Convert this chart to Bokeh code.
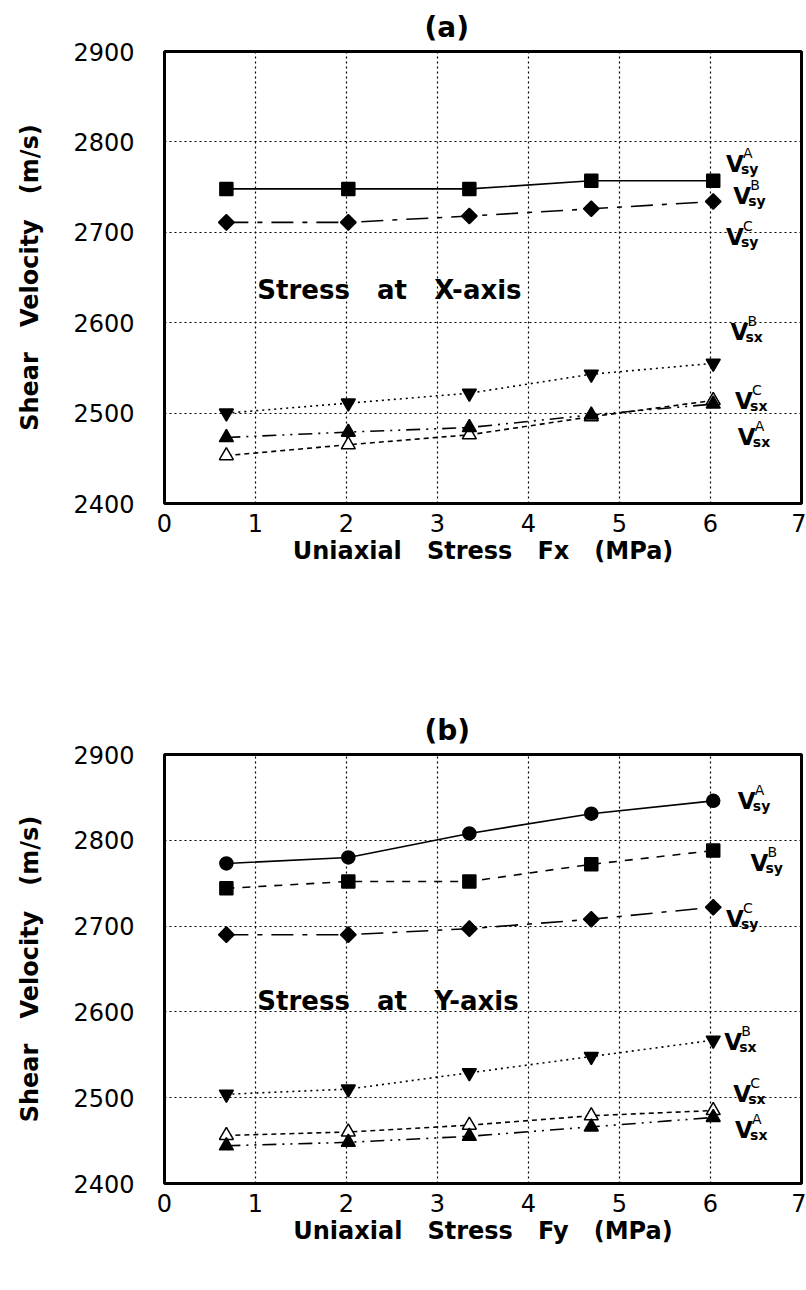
import math
from bokeh.plotting import figure
from bokeh.layouts import column
from bokeh.models import Range1d, FixedTicker, Title, ColumnDataSource
from bokeh.core.properties import value
from bokeh.embed import file_html
from bokeh.resources import INLINE

# ---------------- data ----------------
stress = [0.68, 2.02, 3.35, 4.69, 6.03]          # MPa
x_ticks = [0, 1, 2, 3, 4, 5, 6, 7]
y_ticks = [2400, 2500, 2600, 2700, 2800, 2900]

# (a) stress along X-axis
a_vsy_AB = [2748, 2748, 2748, 2757, 2757]   # squares (A and B coincide)
a_vsy_C = [2711, 2711, 2718, 2726, 2734]    # diamonds
a_vsx_B = [2500, 2511, 2522, 2543, 2555]    # inverted triangles
a_vsx_C = [2453, 2465, 2476, 2496, 2514]    # open triangles
a_vsx_A = [2473, 2479, 2484, 2498, 2510]    # filled triangles

# (b) stress along Y-axis
b_vsy_A = [2773, 2780, 2808, 2831, 2846]    # circles
b_vsy_B = [2744, 2752, 2752, 2772, 2788]    # squares
b_vsy_C = [2690, 2690, 2697, 2708, 2722]    # diamonds
b_vsx_B = [2504, 2510, 2529, 2548, 2567]    # inverted triangles
b_vsx_C = [2456, 2460, 2468, 2479, 2485]    # open triangles
b_vsx_A = [2444, 2448, 2455, 2466, 2477]    # filled triangles

# series labels (superscript, subscript, anchor x, anchor y in data units)
a_lab_sup = ["A", "B", "C", "B", "C", "A"]
a_lab_sub = ["sy", "sy", "sy", "sx", "sx", "sx"]
a_lab_x = [6.17, 6.25, 6.17, 6.22, 6.27, 6.30]
a_lab_y = [2776, 2740, 2695, 2590, 2513, 2474]

b_lab_sup = ["A", "B", "C", "B", "C", "A"]
b_lab_sub = ["sy", "sy", "sy", "sx", "sx", "sx"]
b_lab_x = [6.30, 6.44, 6.17, 6.15, 6.25, 6.27]
b_lab_y = [2846, 2773, 2708, 2565, 2504, 2462]

FONT = "DejaVu Sans"
SP = "\u00a0\u00a0\u00a0"


def make_panel(title, xlabel, series, lab, ann, height, top, bottom):
    p = figure(width=806, height=height, x_range=Range1d(0, 7), y_range=Range1d(2400, 2900),
               output_backend="svg", toolbar_location=None,
               min_border_left=164, min_border_right=5,
               min_border_top=top, min_border_bottom=bottom)
    p.background_fill_color = "white"
    p.border_fill_color = "white"
    p.outline_line_color = "black"
    p.outline_line_width = 3

    t = Title(text=title, align="left", offset=260, standoff=16, text_color="black",
              text_font=FONT, text_font_size="28px", text_font_style="bold")
    p.add_layout(t, "above")

    for ax in (p.xaxis[0], p.yaxis[0]):
        ax.axis_line_color = None
        ax.major_tick_line_color = None
        ax.minor_tick_line_color = None
        ax.major_tick_out = 0
        ax.major_tick_in = 0
        ax.major_label_text_font = FONT
        ax.major_label_text_font_size = "24px"
        ax.major_label_text_color = "black"
        ax.axis_label_text_font = FONT
        ax.axis_label_text_font_size = "24px"
        ax.axis_label_text_font_style = "bold"
        ax.axis_label_text_color = "black"
    p.xaxis.ticker = FixedTicker(ticks=x_ticks)
    p.yaxis.ticker = FixedTicker(ticks=y_ticks)
    p.xaxis.major_label_standoff = 10
    p.yaxis.major_label_standoff = 30
    p.xaxis.axis_label = xlabel
    p.yaxis.axis_label = "Shear" + SP + "Velocity" + SP + "(m/s)"
    p.xaxis.axis_label_standoff = 2
    p.yaxis.axis_label_standoff = 26

    for g in (p.xgrid[0], p.ygrid[0]):
        g.grid_line_color = "black"
        g.grid_line_dash = "2 3"
        g.grid_line_width = 1.2

    for ys, marker, fill, dash, size, ang in series:
        p.line(stress, ys, line_color="black", line_width=1.6, line_dash=dash)
    for ys, marker, fill, dash, size, ang in series:
        p.scatter(stress, ys, marker=marker, size=size, angle=ang, fill_color=fill,
                  line_color="black", line_width=1.5)

    sup, sub, lx, ly = lab
    src = ColumnDataSource(dict(x=lx, y=ly, v=["V"] * len(lx), sup=sup, sub=sub))
    p.text("x", "y", text="v", source=src, text_font=value(FONT), text_font_size="23px",
           text_font_style="bold", text_align="left", text_baseline="middle", text_color="black")
    p.text("x", "y", text="sub", source=src, text_font=value(FONT), text_font_size="14px",
           text_font_style="bold", text_align="left", text_baseline="middle",
           x_offset=15, y_offset=5, text_color="black")
    p.text("x", "y", text="sup", source=src, text_font=value(FONT), text_font_size="14px",
           text_align="left", text_baseline="middle", x_offset=17, y_offset=-11, text_color="black")

    atext, ax_, ay_ = ann
    asrc = ColumnDataSource(dict(x=[ax_], y=[ay_], t=[atext]))
    p.text("x", "y", text="t", source=asrc, text_font=value(FONT), text_font_size="26px",
           text_font_style="bold", text_align="left", text_baseline="middle", text_color="black")
    return p


D = math.pi / 4
series_a = [
    (a_vsy_AB, "square", "black", "solid", 13, 0),
    (a_vsy_C, "square", "black", "22 9 5 9", 11, D),
    (a_vsx_B, "inverted_triangle", "black", "2 4", 14, 0),
    (a_vsx_C, "triangle", "white", "5 4", 14, 0),
    (a_vsx_A, "triangle", "black", "14 6 2 6 2 6", 14, 0),
]
series_b = [
    (b_vsy_A, "circle", "black", "solid", 13, 0),
    (b_vsy_B, "square", "black", "8 8", 13, 0),
    (b_vsy_C, "square", "black", "22 9 5 9", 11, D),
    (b_vsx_B, "inverted_triangle", "black", "2 4", 14, 0),
    (b_vsx_C, "triangle", "white", "5 4", 14, 0),
    (b_vsx_A, "triangle", "black", "14 6 2 6 2 6", 14, 0),
]

pa = make_panel("(a)", "Uniaxial" + SP + "Stress" + SP + "Fx" + SP + "(MPa)", series_a,
                (a_lab_sup, a_lab_sub, a_lab_x, a_lab_y),
                ("Stress" + SP + "at" + SP + "X-axis", 1.02, 2636), 630, 51, 127)
pb = make_panel("(b)", "Uniaxial" + SP + "Stress" + SP + "Fy" + SP + "(MPa)", series_b,
                (b_lab_sup, b_lab_sub, b_lab_x, b_lab_y),
                ("Stress" + SP + "at" + SP + "Y-axis", 1.02, 2613), 660, 124, 107)

layout = column(pa, pb, spacing=0)
open("out.html", "w").write(file_html(layout, INLINE))
